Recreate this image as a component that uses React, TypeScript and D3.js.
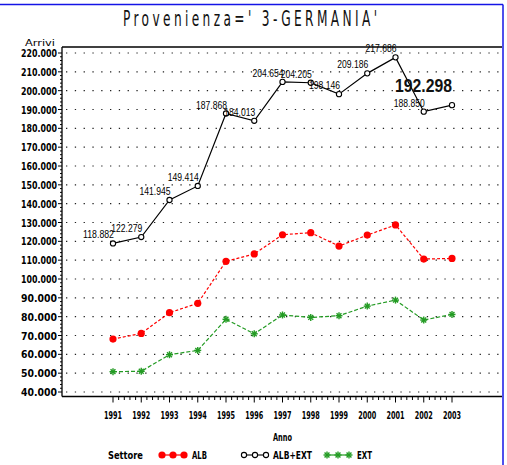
import React from "react";
import * as d3 from "d3";

// data
const years = [1991, 1992, 1993, 1994, 1995, 1996, 1997, 1998, 1999, 2000, 2001, 2002, 2003];
const alb = [68100, 71100, 82100, 87100, 109400, 113300, 123500, 124600, 117500, 123300, 128700, 110600, 110900];
const albExt = [118882, 122279, 141945, 149414, 187868, 184013, 204654, 204205, 198146, 209186, 217686, 188850, 192298];
const ext = [50800, 51000, 59800, 62100, 78600, 70900, 80900, 79600, 80500, 85600, 88800, 78200, 81200];
const yTicks = d3.range(40000, 220001, 10000);
const legendItems = ["ALB", "ALB+EXT", "EXT"];

const W = 507;
const H = 465;
const frame = { left: 62, right: 502, top: 47, bottom: 396.5 };

const itLocale = d3.formatLocale({ decimal: ",", thousands: ".", grouping: [3], currency: ["", ""] });
const fmt = itLocale.format(",");

const axisFont = "'DejaVu Sans', sans-serif";
const labelFont = "'Liberation Sans', Arial, sans-serif";
const RED = "#ff0000";
const GREEN = "#239b23";

const Star = ({ x, y, r = 3.5 }: { x: number; y: number; r?: number }) => (
  <g stroke={GREEN} strokeWidth={1.4}>
    <line x1={x - r} y1={y} x2={x + r} y2={y} />
    <line x1={x} y1={y - r} x2={x} y2={y + r} />
    <line x1={x - r * 0.7} y1={y - r * 0.7} x2={x + r * 0.7} y2={y + r * 0.7} />
    <line x1={x - r * 0.7} y1={y + r * 0.7} x2={x + r * 0.7} y2={y - r * 0.7} />
  </g>
);

const App = () => {
  const x = d3.scaleLinear().domain([1991, 2003]).range([113, 452]);
  const y = d3.scaleLinear().domain([40000, 220000]).range([392, 53]);

  const line = (vals: number[]) =>
    d3
      .line<number>()
      .x((_, i) => x(years[i]))
      .y((d) => y(d))(vals) as string;

  const yMinor = d3.range(40000, 220001, 2000).filter((v) => v % 10000 !== 0);
  const xMinor = d3.range(1991, 2003, 0.2).filter((v) => Math.abs(v - Math.round(v)) > 0.01);

  const legendY = 455;
  const legendSeries = [
    { name: legendItems[0], x0: 162, tx: 192, tw: 15 },
    { name: legendItems[1], x0: 244, tx: 273, tw: 39 },
    { name: legendItems[2], x0: 327, tx: 357, tw: 15 },
  ];

  // condensed title: squeeze glyphs horizontally, spread with letter spacing
  const titleSx = 0.58;

  return (
    <div style={{ position: "absolute", left: 0, top: 0 }}>
      <svg width={W} height={H} style={{ display: "block", background: "#fff" }}>
        {/* outer blue border */}
        <line x1={0} y1={4.5} x2={503} y2={4.5} stroke="#1414e6" strokeWidth={1.5} />
        <line x1={503} y1={4.5} x2={503} y2={H} stroke="#1414e6" strokeWidth={1.5} />

        {/* title */}
        <text
          transform={`translate(123,26) scale(${titleSx},1)`}
          fontFamily={axisFont}
          fontSize={21}
          textLength={254 / titleSx}
          lengthAdjust="spacing"
          fill="#111"
        >
          Provenienza=' 3-GERMANIA'
        </text>

        {/* gridlines */}
        {yTicks.map((t) => (
          <line
            key={"g" + t}
            x1={frame.left + 4}
            x2={frame.right}
            y1={y(t)}
            y2={y(t)}
            stroke="#222"
            strokeWidth={1.2}
            strokeDasharray="1.3 7.5"
          />
        ))}

        {/* frame */}
        <line x1={frame.left} y1={frame.top} x2={frame.right} y2={frame.top} stroke="#000" strokeWidth={1.3} />
        <line x1={frame.left} y1={frame.top} x2={frame.left} y2={frame.bottom} stroke="#000" strokeWidth={1.3} />
        <line x1={frame.left} y1={frame.bottom} x2={frame.right} y2={frame.bottom} stroke="#000" strokeWidth={1.3} />

        {/* y axis ticks */}
        {yTicks.map((t) => (
          <g key={"yt" + t}>
            <line x1={frame.left - 4} x2={frame.left} y1={y(t)} y2={y(t)} stroke="#000" />
            <text
              x={57}
              y={y(t) + 4}
              textAnchor="end"
              fontFamily={axisFont}
              fontWeight="bold"
              fontSize={11}
              textLength={36}
              lengthAdjust="spacingAndGlyphs"
            >
              {fmt(t)}
            </text>
          </g>
        ))}
        {yMinor.map((t) => (
          <line key={"ym" + t} x1={frame.left - 2} x2={frame.left} y1={y(t)} y2={y(t)} stroke="#000" />
        ))}
        <text
          x={55}
          y={46}
          textAnchor="end"
          fontFamily={axisFont}
          fontSize={8}
          textLength={30}
          lengthAdjust="spacingAndGlyphs"
        >
          Arrivi
        </text>

        {/* x axis ticks */}
        {years.map((yr) => (
          <g key={"xt" + yr}>
            <line x1={x(yr)} x2={x(yr)} y1={frame.bottom} y2={frame.bottom + 6} stroke="#000" />
            <text
              x={x(yr)}
              y={419}
              textAnchor="middle"
              fontFamily={axisFont}
              fontWeight="bold"
              fontSize={11}
              textLength={18}
              lengthAdjust="spacingAndGlyphs"
            >
              {yr}
            </text>
          </g>
        ))}
        {xMinor.map((v, i) => (
          <line key={"xm" + i} x1={x(v)} x2={x(v)} y1={frame.bottom} y2={frame.bottom + 3.5} stroke="#000" />
        ))}
        <text
          x={282.5}
          y={441}
          textAnchor="middle"
          fontFamily={axisFont}
          fontWeight="bold"
          fontSize={10}
          textLength={19}
          lengthAdjust="spacingAndGlyphs"
        >
          Anno
        </text>

        {/* series lines */}
        <path d={line(alb)} fill="none" stroke={RED} strokeWidth={1.2} strokeDasharray="3 2" />
        <path d={line(albExt)} fill="none" stroke="#000" strokeWidth={1.2} />
        <path d={line(ext)} fill="none" stroke={GREEN} strokeWidth={1.2} strokeDasharray="4 2" />

        {/* markers */}
        {alb.map((v, i) => (
          <circle key={"a" + i} cx={x(years[i])} cy={y(v)} r={3.6} fill={RED} />
        ))}
        {albExt.map((v, i) => (
          <circle key={"b" + i} cx={x(years[i])} cy={y(v)} r={2.6} fill="#fff" stroke="#000" strokeWidth={1.1} />
        ))}
        {ext.map((v, i) => (
          <Star key={"c" + i} x={x(years[i])} y={y(v)} />
        ))}

        {/* point labels for ALB+EXT */}
        {albExt.map((v, i) =>
          i === albExt.length - 1 ? (
            <text
              key={"l" + i}
              x={x(years[i])}
              y={y(v) - 13}
              textAnchor="end"
              fontFamily={labelFont}
              fontWeight="bold"
              fontSize={18}
              textLength={57}
              lengthAdjust="spacingAndGlyphs"
              fill="#111"
            >
              {fmt(v)}
            </text>
          ) : (
            <text
              key={"l" + i}
              x={x(years[i]) + 1}
              y={y(v) - 5}
              textAnchor="end"
              fontFamily={labelFont}
              fontSize={10.5}
              textLength={31}
              lengthAdjust="spacingAndGlyphs"
              fill="#000"
            >
              {fmt(v)}
            </text>
          )
        )}

        {/* legend */}
        <text
          x={108}
          y={legendY + 4}
          fontFamily={axisFont}
          fontWeight="bold"
          fontSize={11}
          textLength={35}
          lengthAdjust="spacingAndGlyphs"
        >
          Settore
        </text>
        {legendSeries.map((s, k) => (
          <g key={"lg" + s.name}>
            {k === 0 && (
              <>
                <line x1={s.x0} x2={s.x0 + 22} y1={legendY} y2={legendY} stroke={RED} strokeWidth={1.2} />
                {[0, 11, 22].map((dx) => (
                  <circle key={dx} cx={s.x0 + dx} cy={legendY} r={3.6} fill={RED} />
                ))}
              </>
            )}
            {k === 1 && (
              <>
                <line x1={s.x0} x2={s.x0 + 22} y1={legendY} y2={legendY} stroke="#000" strokeWidth={1.1} />
                {[0, 11, 22].map((dx) => (
                  <circle key={dx} cx={s.x0 + dx} cy={legendY} r={2.6} fill="#fff" stroke="#000" strokeWidth={1.1} />
                ))}
              </>
            )}
            {k === 2 && (
              <>
                <line x1={s.x0} x2={s.x0 + 22} y1={legendY} y2={legendY} stroke={GREEN} strokeWidth={1.2} />
                {[0, 11, 22].map((dx) => (
                  <Star key={dx} x={s.x0 + dx} y={legendY} />
                ))}
              </>
            )}
            <text
              x={s.tx}
              y={legendY + 4}
              fontFamily={axisFont}
              fontWeight="bold"
              fontSize={11}
              textLength={s.tw}
              lengthAdjust="spacingAndGlyphs"
            >
              {s.name}
            </text>
          </g>
        ))}
      </svg>
    </div>
  );
};

export default App;
